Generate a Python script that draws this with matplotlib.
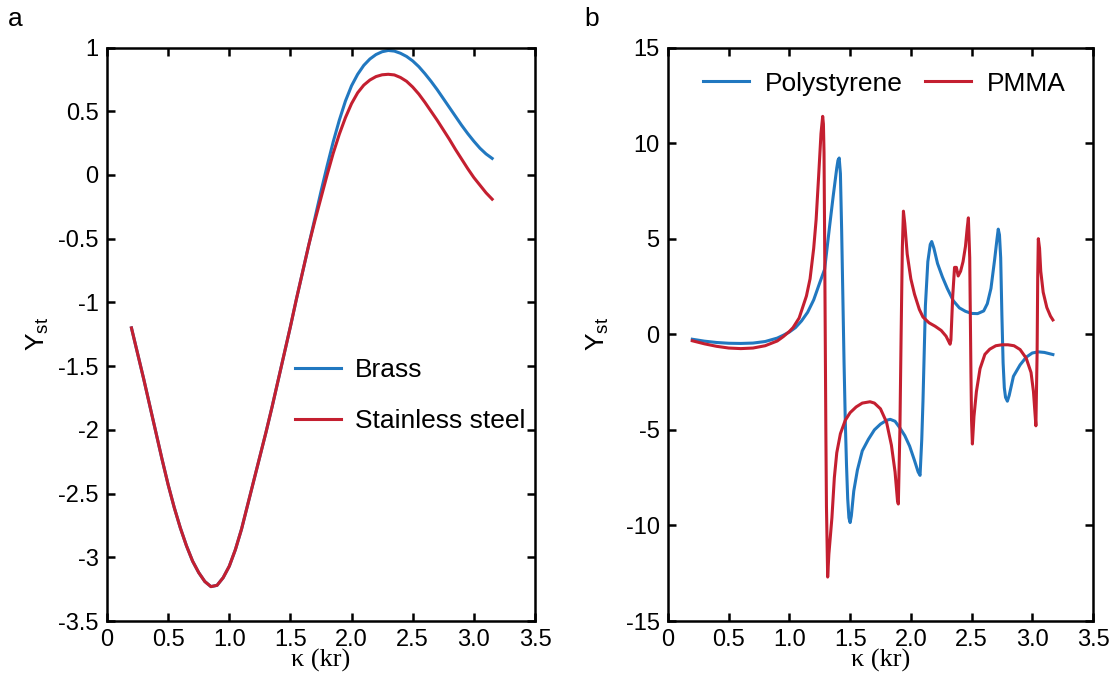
import matplotlib
matplotlib.use("Agg")
import matplotlib.pyplot as plt

# ---- panel a data: Y_st vs kappa for two metal spheres ----
ka = [0.20, 0.25, 0.30, 0.35, 0.40, 0.45, 0.50, 0.55, 0.60, 0.65,
      0.70, 0.75, 0.80, 0.85, 0.90, 0.95, 1.00, 1.05, 1.10, 1.15,
      1.20, 1.25, 1.30, 1.35, 1.40, 1.45, 1.50, 1.55, 1.60, 1.65,
      1.70, 1.75, 1.80, 1.85, 1.90, 1.95, 2.00, 2.05, 2.10, 2.15,
      2.20, 2.25, 2.30, 2.35, 2.40, 2.45, 2.50, 2.55, 2.60, 2.65,
      2.70, 2.75, 2.80, 2.85, 2.90, 2.95, 3.00, 3.05, 3.10, 3.15]
common_low = [-1.20, -1.40, -1.60, -1.81, -2.02, -2.23, -2.43, -2.61, -2.77, -2.91,
              -3.03, -3.12, -3.19, -3.23, -3.22, -3.16, -3.07, -2.94, -2.78, -2.59,
              -2.40, -2.21, -2.02, -1.82, -1.61, -1.40, -1.19, -0.97, -0.76, -0.55]
brass_high = [-0.34, -0.13, 0.07, 0.26, 0.43, 0.58, 0.70, 0.79, 0.86, 0.91,
              0.945, 0.967, 0.977, 0.972, 0.955, 0.93, 0.895, 0.85, 0.795, 0.735,
              0.67, 0.60, 0.53, 0.46, 0.39, 0.325, 0.265, 0.21, 0.165, 0.13]
steel_high = [-0.36, -0.18, 0.00, 0.17, 0.32, 0.45, 0.56, 0.645, 0.705, 0.745,
              0.772, 0.786, 0.79, 0.785, 0.765, 0.735, 0.69, 0.635, 0.57, 0.50,
              0.43, 0.355, 0.28, 0.20, 0.125, 0.05, -0.02, -0.08, -0.14, -0.19]
brass = common_low + brass_high
steel = common_low + steel_high

# ---- panel b data: polymer spheres ----
ps_x = [0.20, 0.30, 0.40, 0.50, 0.60, 0.70, 0.80, 0.90, 0.95, 1.00,
        1.05, 1.10, 1.15, 1.20, 1.25, 1.29, 1.33, 1.36, 1.39, 1.40,
        1.41, 1.42, 1.43, 1.44, 1.45, 1.46, 1.47, 1.48, 1.49, 1.50,
        1.51, 1.53, 1.56, 1.60, 1.65, 1.70, 1.75, 1.80, 1.83, 1.87,
        1.91, 1.95, 1.99, 2.03, 2.06, 2.076, 2.09, 2.10, 2.11, 2.12,
        2.14, 2.16, 2.172, 2.19, 2.22, 2.26, 2.30, 2.35, 2.40, 2.45,
        2.50, 2.55, 2.60, 2.63, 2.66, 2.69, 2.71, 2.72, 2.73, 2.74,
        2.75, 2.76, 2.77, 2.78, 2.795, 2.81, 2.845, 2.90, 2.95, 3.00,
        3.05, 3.10, 3.17]
ps_y = [-0.26, -0.36, -0.43, -0.47, -0.48, -0.46, -0.38, -0.20, -0.05, 0.12,
        0.35, 0.70, 1.15, 1.80, 2.70, 3.40, 5.60, 7.20, 8.70, 9.10,
        9.22, 8.40, 5.50, 2.00, -1.50, -4.50, -6.80, -8.60, -9.60, -9.85,
        -9.50, -8.20, -7.10, -6.10, -5.50, -5.00, -4.70, -4.50, -4.45, -4.55,
        -4.90, -5.30, -5.85, -6.60, -7.20, -7.38, -5.50, -3.50, -1.00, 1.50,
        3.80, 4.70, 4.85, 4.50, 3.70, 3.00, 2.40, 1.75, 1.38, 1.20,
        1.09, 1.08, 1.22, 1.60, 2.40, 3.90, 5.00, 5.50, 5.20, 4.00,
        1.00, -1.50, -2.80, -3.30, -3.50, -3.20, -2.20, -1.60, -1.20, -0.98,
        -0.92, -0.95, -1.06]

pmma_x = [0.20, 0.30, 0.40, 0.50, 0.60, 0.70, 0.80, 0.90, 0.95, 1.00,
          1.03, 1.08, 1.14, 1.17, 1.20, 1.22, 1.24, 1.26, 1.274, 1.28,
          1.285, 1.29, 1.295, 1.30, 1.305, 1.315, 1.325, 1.35, 1.37, 1.39,
          1.42, 1.46, 1.50, 1.55, 1.60, 1.664, 1.70, 1.75, 1.80, 1.84,
          1.87, 1.89, 1.897, 1.91, 1.92, 1.93, 1.939, 1.95, 1.97, 2.00,
          2.03, 2.07, 2.10, 2.15, 2.20, 2.25, 2.29, 2.323, 2.33, 2.345,
          2.36, 2.375, 2.39, 2.41, 2.43, 2.45, 2.465, 2.474, 2.485, 2.49,
          2.495, 2.50, 2.507, 2.52, 2.54, 2.57, 2.61, 2.65, 2.70, 2.75,
          2.80, 2.85, 2.90, 2.95, 2.99, 3.01, 3.03, 3.04, 3.045, 3.05,
          3.06, 3.07, 3.09, 3.12, 3.15, 3.17]
pmma_y = [-0.34, -0.50, -0.63, -0.72, -0.75, -0.72, -0.60, -0.35, -0.12, 0.15,
          0.35, 0.85, 2.00, 2.90, 4.50, 6.00, 8.20, 10.50, 11.40, 11.00,
          9.50, 5.00, 0.00, -5.00, -9.00, -12.70, -11.50, -9.60, -7.50, -6.20,
          -5.20, -4.50, -4.10, -3.80, -3.60, -3.53, -3.60, -3.90, -4.60, -5.80,
          -7.20, -8.70, -8.88, -5.00, 0.00, 4.50, 6.44, 5.80, 4.20, 2.90,
          2.10, 1.30, 0.90, 0.60, 0.42, 0.20, -0.10, -0.52, -0.30, 2.00,
          3.50, 3.50, 3.05, 3.30, 3.80, 4.60, 5.60, 6.09, 4.00, 1.00,
          -2.00, -4.50, -5.74, -4.30, -3.00, -1.80, -1.05, -0.78, -0.60, -0.55,
          -0.55, -0.60, -0.80, -1.25, -2.00, -3.00, -4.79, -1.00, 3.00, 5.00,
          4.50, 3.30, 2.20, 1.40, 0.95, 0.75]

xticks = [0, 0.5, 1.0, 1.5, 2.0, 2.5, 3.0, 3.5]
xtick_labels = ["0", "0.5", "1.0", "1.5", "2.0", "2.5", "3.0", "3.5"]
a_yticks = [1, 0.5, 0, -0.5, -1, -1.5, -2, -2.5, -3, -3.5]
a_ytick_labels = ["1", "0.5", "0", "-0.5", "-1", "-1.5", "-2", "-2.5", "-3", "-3.5"]
b_yticks = [15, 10, 5, 0, -5, -10, -15]
b_ytick_labels = ["15", "10", "5", "0", "-5", "-10", "-15"]

blue = "#2178c0"
red = "#c41f30"

plt.rcParams["font.family"] = ["Liberation Sans", "DejaVu Sans"]
plt.rcParams["axes.unicode_minus"] = False
tick_fs = 17
text_fs = 19

fig = plt.figure(figsize=(11.18, 6.77), dpi=100)
ax1 = fig.add_axes([0.0957, 0.0827, 0.3828, 0.8471])
ax2 = fig.add_axes([0.5975, 0.0827, 0.3801, 0.8471])


def style_axes(ax, yticks, ylabels, ylim):
    ax.set_xlim(0, 3.5)
    ax.set_ylim(*ylim)
    ax.set_xticks(xticks)
    ax.set_xticklabels(xtick_labels)
    ax.set_yticks(yticks)
    ax.set_yticklabels(ylabels)
    ax.tick_params(direction="in", top=True, right=True, length=6, width=1.8,
                   labelsize=tick_fs, pad=6)
    for sp in ax.spines.values():
        sp.set_linewidth(1.8)
    ax.set_xlabel("κ (kr)", family=["Liberation Serif", "DejaVu Serif"], fontsize=text_fs)
    ax.xaxis.set_label_coords(0.5, -0.048)
    ax.set_ylabel(r"Y$_{\mathregular{st}}$", fontsize=text_fs)


# Plot a
ax1.plot(ka, brass, color=blue, linewidth=2.2, label="Brass")
ax1.plot(ka, steel, color=red, linewidth=2.2, label="Stainless steel")
style_axes(ax1, a_yticks, a_ytick_labels, (-3.5, 1))
ax1.yaxis.set_label_coords(-0.13, 0.5)
ax1.legend(loc="upper left", bbox_to_anchor=(0.44, 0.458), frameon=False,
           fontsize=text_fs, handlelength=1.75, handletextpad=0.5, labelspacing=1.0,
           borderpad=0, borderaxespad=0)

# Plot b
ax2.plot(ps_x, ps_y, color=blue, linewidth=2.2, label="Polystyrene")
ax2.plot(pmma_x, pmma_y, color=red, linewidth=2.2, label="PMMA")
style_axes(ax2, b_yticks, b_ytick_labels, (-15, 15))
ax2.yaxis.set_label_coords(-0.135, 0.5)
ax2.legend(loc="upper left", bbox_to_anchor=(0.082, 0.958), frameon=False,
           fontsize=text_fs, ncol=2, handlelength=1.75, handletextpad=0.6,
           columnspacing=0.85, borderpad=0, borderaxespad=0)

fig.text(0.007, 0.972, "a", fontsize=text_fs, va="center")
fig.text(0.523, 0.972, "b", fontsize=text_fs, va="center")

fig.savefig("out.png", dpi=100)
